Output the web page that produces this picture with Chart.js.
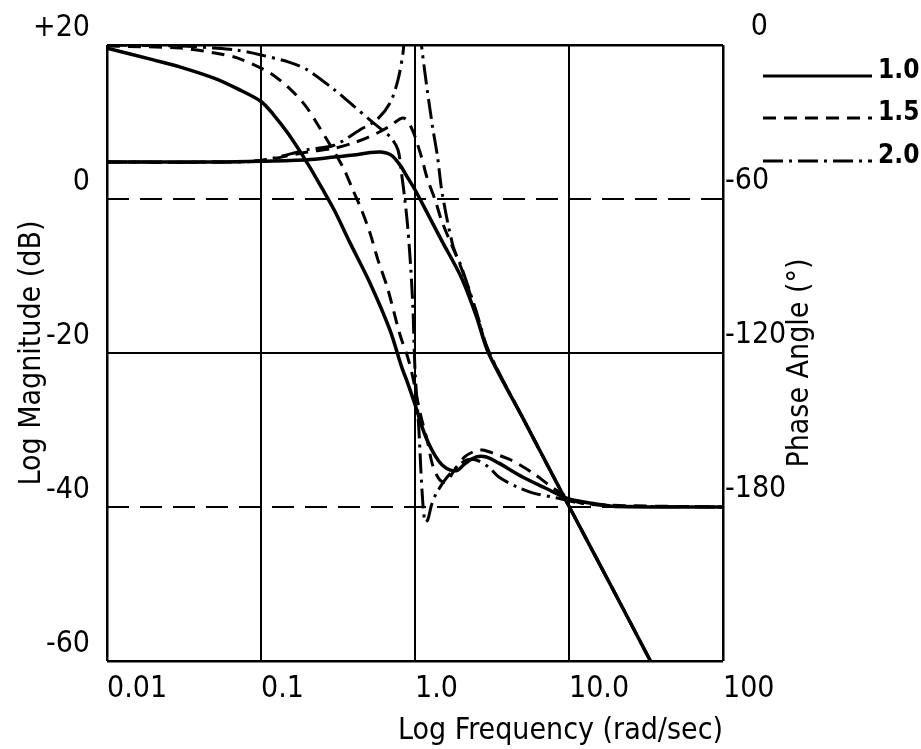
<!DOCTYPE html>
<html>
<head>
<meta charset="utf-8">
<script src="https://cdn.jsdelivr.net/npm/chart.js@4.4.1/dist/chart.umd.min.js"></script>
<style>
  html, body { margin: 0; padding: 0; background: #fff; }
</style>
</head>
<body>
<canvas id="bode" width="921" height="749"></canvas>
<script>
// x axis: frequency (rad/sec), log scale
const freqTicks = [0.01, 0.1, 1, 10, 100];
const freqTickLabels = ['0.01', '0.1', '1.0', '10.0', '100'];
const gains = ['1.0', '1.5', '2.0'];

// log magnitude (dB), gain 1.0
const magFreq1 = [0.01, 0.05, 0.1, 0.2, 0.3, 0.4, 0.5, 0.6, 0.7, 0.8, 0.9, 1.0, 1.2, 1.5, 2, 2.5, 3, 5, 10, 20, 40];
const magDb1   = [4.8, 4.8, 4.9, 5.1, 5.45, 5.7, 6.0, 6.1, 5.7, 4.4, 2.7, 1.2, -1.8, -5.5, -10.2, -15.2, -20.0, -28.4, -39.9, -51.3, -62.8];

// log magnitude (dB), gain 1.5
const magFreq15 = [0.01, 0.05, 0.1, 0.2, 0.3, 0.4, 0.5, 0.6, 0.7, 0.8, 0.85, 0.9, 0.95, 1.0, 1.1, 1.2, 1.35, 1.5, 2, 2.5, 3, 5, 10, 20, 40];
const magDb15   = [4.8, 4.8, 5.0, 6.1, 6.6, 7.3, 8.05, 8.8, 9.6, 10.4, 10.5, 10.1, 9.2, 8.1, 5.5, 2.7, -0.1, -3.0, -9.0, -14.8, -19.8, -28.4, -39.9, -51.3, -62.8];

// log magnitude (dB), gain 2.0 (peak runs off the top, null = break)
const magFreq2 = [0.01, 0.05, 0.1, 0.2, 0.3, 0.44, 0.566, 0.69, 0.776, 0.836, 0.855, 0.95, 1.075, 1.11, 1.2, 1.3, 1.4, 1.5, 1.77, 2, 2.5, 3, 5, 10, 20, 40];
const magDb2   = [4.8, 4.8, 5.0, 6.4, 7.0, 9.0, 10.3, 12.5, 15.5, 19.0, 21.5, null, 22.0, 19.4, 14.2, 9.4, 5.5, 0.8, -6.2, -8.8, -14.6, -19.7, -28.4, -39.9, -51.3, -62.8];

// phase angle (deg), gain 1.0
const phFreq1 = [0.01, 0.02, 0.03, 0.05, 0.07, 0.1, 0.12, 0.15, 0.2, 0.25, 0.3, 0.378, 0.51, 0.687, 0.82, 0.9, 1.0, 1.1, 1.2, 1.35, 1.5, 1.7, 1.9, 2.1, 2.5, 2.9, 3.5, 5, 7, 10, 15, 20, 100];
const phDeg1  = [-1.2, -5.8, -8.6, -13.0, -17.0, -22.0, -27.0, -34.5, -46, -56, -64.5, -77, -92.7, -111, -125.5, -132, -140, -148, -154, -160, -163.6, -165.6, -165.6, -163.2, -160.5, -160.5, -162.9, -168.3, -172.6, -176.9, -178.8, -179.8, -180];

// phase angle (deg), gain 1.5
const phFreq15 = [0.01, 0.03, 0.05, 0.07, 0.1, 0.115, 0.15, 0.193, 0.23, 0.34, 0.395, 0.45, 0.51, 0.575, 0.66, 0.8, 0.9, 0.97, 1.08, 1.2, 1.3, 1.45, 1.6, 1.8, 2.1, 2.45, 2.75, 3.3, 4.2, 5.8, 7.9, 11.2, 16, 100];
const phDeg15  = [-0.4, -1.2, -3.1, -5.0, -9.0, -10.9, -16.4, -23.4, -30.4, -47.5, -56.5, -64.3, -73.2, -83.8, -94.3, -113, -122, -129.7, -143.4, -154, -163.6, -169.5, -170.3, -165.6, -160.5, -158.2, -157.8, -159.3, -161.7, -166.7, -172.6, -178, -179.2, -180];

// phase angle (deg), gain 2.0
const phFreq2 = [0.01, 0.03, 0.05, 0.07, 0.1, 0.15, 0.2, 0.3, 0.4, 0.5, 0.6, 0.7, 0.776, 0.82, 0.86, 0.9, 0.94, 0.97, 1.0, 1.06, 1.11, 1.16, 1.21, 1.28, 1.38, 1.6, 1.87, 2.17, 2.5, 3.0, 3.5, 4.6, 5.8, 8.4, 11.7, 21, 100];
const phDeg2  = [0, -0.4, -1.2, -2.0, -3.9, -6.6, -9.7, -17.5, -23.8, -28.8, -32.7, -36.2, -40.9, -50.6, -60.4, -72, -87.7, -103, -126.6, -150, -173.4, -185.8, -185, -179.2, -174.5, -168.7, -164.4, -161.7, -161.7, -164.4, -168.3, -172.2, -174.5, -176.5, -178.4, -179.6, -180];

const FONT = '"DejaVu Sans Condensed", "DejaVu Sans", sans-serif';

function pts(xs, ys) {
    return xs.map((x, i) => ({ x: x, y: ys[i] }));
}

const lineStyles = [
    { borderWidth: 3.5, borderDash: [] },
    { borderWidth: 3, borderDash: [13, 8] },
    { borderWidth: 3, borderDash: [20, 6, 3, 6] }
];

function curve(data, axis, style) {
    return {
        data: data,
        yAxisID: axis,
        borderColor: '#000',
        borderWidth: style.borderWidth,
        borderDash: style.borderDash,
        pointRadius: 0,
        fill: false,
        tension: 0.3,
        spanGaps: false
    };
}

// legend on the right + right-hand axis title (reads bottom to top)
const keyPlugin = {
    id: 'gainKey',
    afterDraw(chart) {
        const ctx = chart.ctx;
        const keyY = [76, 118, 161];
        ctx.save();
        gains.forEach((g, i) => {
            ctx.strokeStyle = '#000';
            ctx.lineWidth = 3;
            ctx.setLineDash(lineStyles[i].borderDash);
            ctx.beginPath();
            ctx.moveTo(763, keyY[i]);
            ctx.lineTo(872, keyY[i]);
            ctx.stroke();
            ctx.setLineDash([]);
            ctx.fillStyle = '#000';
            ctx.font = 'bold 26px ' + FONT;
            ctx.textAlign = 'left';
            ctx.textBaseline = 'alphabetic';
            ctx.fillText(g, 878, keyY[i] + 2);
        });
        ctx.translate(800, 363);
        ctx.rotate(-Math.PI / 2);
        ctx.font = '30px ' + FONT;
        ctx.textAlign = 'center';
        ctx.textBaseline = 'middle';
        ctx.fillText('Phase Angle (\u00B0)', 0, 0);
        ctx.restore();
    }
};

const black = '#000';
const none = 'rgba(0,0,0,0)';

new Chart(document.getElementById('bode'), {
    type: 'line',
    data: {
        datasets: [
            curve(pts(magFreq1, magDb1), 'y', lineStyles[0]),
            curve(pts(magFreq15, magDb15), 'y', lineStyles[1]),
            curve(pts(magFreq2, magDb2), 'y', lineStyles[2]),
            curve(pts(phFreq1, phDeg1), 'y2', lineStyles[0]),
            curve(pts(phFreq15, phDeg15), 'y2', lineStyles[1]),
            curve(pts(phFreq2, phDeg2), 'y2', lineStyles[2])
        ]
    },
    options: {
        responsive: false,
        animation: false,
        layout: { padding: { top: 45, left: 0, right: 0, bottom: 0 } },
        plugins: { legend: { display: false }, tooltip: { enabled: false } },
        scales: {
            x: {
                type: 'logarithmic',
                min: 0.01,
                max: 100,
                afterBuildTicks: (s) => { s.ticks = freqTicks.map(v => ({ value: v })); },
                afterFit: (s) => { s.height = 88; },
                ticks: {
                    autoSkip: false,
                    maxRotation: 0,
                    align: 'start',
                    padding: 10,
                    color: black,
                    font: { family: FONT, size: 30 },
                    callback: (v) => freqTickLabels[freqTicks.indexOf(v)]
                },
                grid: {
                    color: black,
                    lineWidth: (c) => (c.index === 0 || c.index === freqTicks.length - 1) ? 2.5 : 2,
                    drawTicks: false
                },
                border: { display: false },
                title: {
                    display: true,
                    text: 'Log Frequency (rad/sec)',
                    align: 'end',
                    color: black,
                    padding: { top: 0, bottom: 0 },
                    font: { family: FONT, size: 30 }
                }
            },
            y: {
                position: 'left',
                min: -60,
                max: 20,
                afterFit: (s) => { s.width = 107; },
                ticks: {
                    stepSize: 20,
                    padding: 17,
                    labelOffset: -17,
                    color: black,
                    font: { family: FONT, size: 30 },
                    callback: (v) => v > 0 ? '+' + v : String(v)
                },
                grid: {
                    color: (c) => [20, -20, -60].includes(c.tick.value) ? black : none,
                    lineWidth: (c) => c.tick.value === -20 ? 2 : 2.5,
                    drawTicks: false
                },
                border: { display: false },
                title: {
                    display: true,
                    text: 'Log Magnitude (dB)',
                    color: black,
                    padding: { top: 14, bottom: 0 },
                    font: { family: FONT, size: 30 }
                }
            },
            y2: {
                position: 'right',
                min: -240,
                max: 0,
                afterFit: (s) => { s.width = 198; },
                ticks: {
                    stepSize: 60,
                    padding: 2,
                    labelOffset: -18,
                    color: black,
                    font: { family: FONT, size: 30 },
                    callback: (v) => v === -240 ? '' : (v === 0 ? '   0' : String(v))
                },
                grid: {
                    color: (c) => [-60, -180].includes(c.tick.value) ? black : none,
                    lineWidth: 2,
                    drawTicks: false
                },
                border: { display: false, dash: [22, 11] }
            }
        }
    },
    plugins: [keyPlugin]
});
</script>
</body>
</html>
